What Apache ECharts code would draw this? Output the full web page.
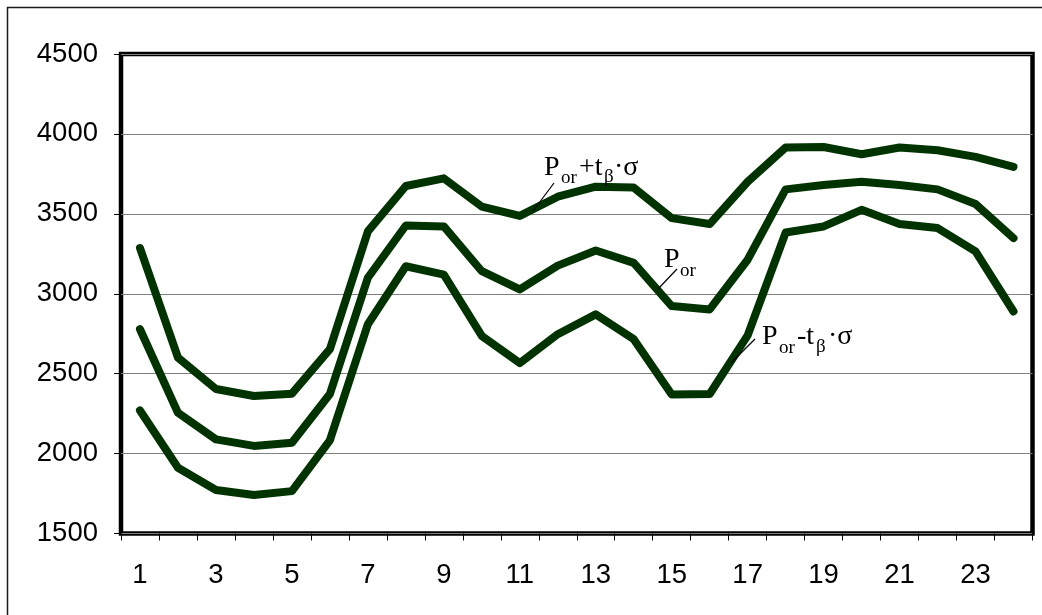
<!DOCTYPE html>
<html>
<head>
<meta charset="utf-8">
<script src="https://cdn.jsdelivr.net/npm/echarts@6/dist/echarts.min.js"></script>
<style>
html,body{margin:0;padding:0;background:#fff;}
#c{width:1042px;height:615px;}
</style>
</head>
<body>
<div id="c"></div>
<script>
const categories = ['1','2','3','4','5','6','7','8','9','10','11','12','13','14','15','16','17','18','19','20','21','22','23','24'];
const upperValues = [3286, 2600, 2404, 2360, 2375, 2653, 3390, 3674, 3722, 3545, 3487, 3607, 3670, 3664, 3473, 3436, 3701, 3915, 3918, 3873, 3915, 3898, 3856, 3794];
const meanValues  = [2778, 2255, 2089, 2048, 2068, 2373, 3100, 3427, 3421, 3141, 3027, 3176, 3271, 3193, 2923, 2902, 3213, 3653, 3680, 3701, 3680, 3653, 3562, 3348];
const lowerValues = [2270, 1911, 1772, 1741, 1765, 2083, 2809, 3172, 3120, 2736, 2566, 2747, 2871, 2716, 2369, 2373, 2740, 3383, 3421, 3525, 3437, 3411, 3265, 2889];
const yTicks = { min: 1500, max: 4500, interval: 500 };

const lineColor = '#003300';
const serif = 'Liberation Serif';
const sans = 'Liberation Sans';

function lineSeries(name, data) {
  return {
    name: name, type: 'line', data: data, symbol: 'none', silent: true,
    lineStyle: { color: lineColor, width: 8, cap: 'round', join: 'round' },
    animation: false
  };
}

function piece(t, x, y, size) {
  return { type: 'text', z: 100, style: { text: t, x: x, y: y, font: size + 'px "' + serif + '"', fill: '#000', verticalAlign: 'bottom' } };
}

const chart = echarts.init(document.getElementById('c'), null, { renderer: 'canvas' });
const option = {
  animation: false,
  backgroundColor: '#fff',
  grid: { left: 121, right: 9.5, top: 54, bottom: 81.5, show: true, borderColor: '#000', borderWidth: 4.5, containLabel: false },
  xAxis: {
    type: 'category', data: categories, boundaryGap: true,
    axisLine: { show: false },
    axisTick: { show: true, interval: 0, length: 7, inside: false, lineStyle: { color: '#000', width: 1 } },
    axisLabel: { interval: 1, margin: 28, fontFamily: sans, fontSize: 27.5, color: '#000' },
    splitLine: { show: false }
  },
  yAxis: {
    type: 'value', min: yTicks.min, max: yTicks.max, interval: yTicks.interval,
    axisLine: { show: false },
    axisTick: { show: true, length: 7, lineStyle: { color: '#000', width: 1 } },
    axisLabel: { margin: 23, fontFamily: sans, fontSize: 27.5, color: '#000', formatter: function (v) { return String(v); } },
    splitLine: { show: true, lineStyle: { color: '#808080', width: 1.2 } }
  },
  series: [
    lineSeries('upper', upperValues),
    lineSeries('mean', meanValues),
    lineSeries('lower', lowerValues)
  ],
  graphic: [
    { type: 'rect', z: -10, shape: { x: 7.5, y: 7.5, width: 1100, height: 700 }, style: { fill: null, stroke: '#1a1a1a', lineWidth: 1.5 } },
    { type: 'line', z: 100, shape: { x1: 533, y1: 211, x2: 554, y2: 183 }, style: { stroke: '#000', lineWidth: 1.2 } },
    { type: 'line', z: 100, shape: { x1: 658, y1: 289, x2: 677, y2: 269 }, style: { stroke: '#000', lineWidth: 1.2 } },
    { type: 'line', z: 100, shape: { x1: 731, y1: 363, x2: 755, y2: 339 }, style: { stroke: '#000', lineWidth: 1.2 } },
    piece('P', 544, 182, 28), piece('or', 561, 188, 19), piece('+t', 579, 182, 28), piece('β', 604, 187, 19), piece('·σ', 614, 182, 28),
    piece('P', 664, 274, 28), piece('or', 680, 281, 19),
    piece('P', 762, 351, 28), piece('or', 779, 358, 19), piece('-t', 797, 351, 28), piece('β', 816, 357, 19), piece('·σ', 828, 351, 28)
  ]
};
chart.setOption(option);
</script>
</body>
</html>
